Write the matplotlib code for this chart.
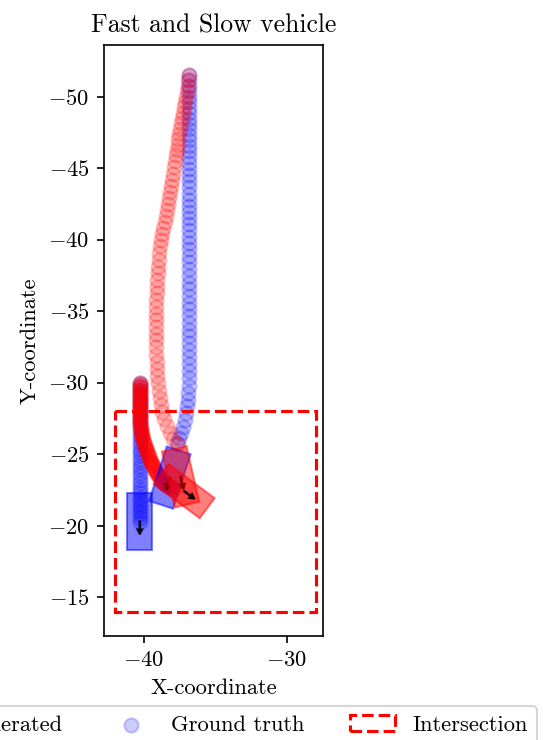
import matplotlib
matplotlib.use("Agg")
import matplotlib.pyplot as plt
from matplotlib.patches import Rectangle
import numpy as np

plt.rcParams["font.family"] = "serif"
plt.rcParams["font.serif"] = ["cmr10"]
plt.rcParams["mathtext.fontset"] = "cm"
plt.rcParams["axes.formatter.use_mathtext"] = True
plt.rcParams["font.size"] = 10.8

# ground truth, fast vehicle
gt_fast_x = [
    -36.85, -36.85, -36.85, -36.85, -36.85, -36.85, -36.85, -36.85, -36.85, -36.85,
    -36.85, -36.85, -36.85, -36.85, -36.85, -36.85, -36.85, -36.85, -36.85, -36.85,
    -36.85, -36.85, -36.85, -36.85, -36.85, -36.85, -36.85, -36.85, -36.85, -36.85,
    -36.85, -36.85, -36.85, -36.85, -36.85, -36.85, -36.85, -36.85, -36.85, -36.85,
    -36.85, -36.85, -36.85, -36.85, -36.85, -36.85, -36.85, -36.85, -36.85, -36.85,
    -36.86, -36.88, -36.92, -36.97, -37.04, -37.12, -37.24, -37.37, -37.52, -37.67,
]
gt_fast_y = [
    -51.50, -51.12, -50.74, -50.36, -49.98, -49.60, -49.22, -48.84, -48.46, -48.08,
    -47.70, -47.32, -46.94, -46.56, -46.18, -45.80, -45.37, -44.94, -44.51, -44.08,
    -43.65, -43.22, -42.79, -42.36, -41.93, -41.50, -41.07, -40.64, -40.21, -39.78,
    -39.35, -38.88, -38.41, -37.94, -37.47, -37.00, -36.53, -36.06, -35.59, -35.12,
    -34.65, -34.18, -33.71, -33.24, -32.77, -32.30, -31.80, -31.30, -30.80, -30.30,
    -29.80, -29.31, -28.82, -28.34, -27.86, -27.39, -26.94, -26.52, -26.13, -25.77,
]

# generated, fast vehicle
gen_fast_x = [
    -36.85, -36.89, -36.94, -36.98, -37.04, -37.11, -37.17, -37.24, -37.31, -37.37,
    -37.44, -37.51, -37.58, -37.64, -37.71, -37.78, -37.85, -37.92, -37.99, -38.05,
    -38.12, -38.19, -38.26, -38.33, -38.41, -38.48, -38.55, -38.63, -38.70, -38.77,
    -38.84, -38.91, -38.95, -38.98, -39.02, -39.05, -39.08, -39.10, -39.12, -39.13,
    -39.15, -39.16, -39.16, -39.16, -39.16, -39.16, -39.14, -39.11, -39.08, -39.05,
    -39.02, -38.96, -38.90, -38.81, -38.71, -38.57, -38.39, -38.19, -37.96, -37.60,
]
gen_fast_y = [
    -51.50, -51.12, -50.75, -50.37, -49.99, -49.62, -49.25, -48.87, -48.50, -48.12,
    -47.75, -47.38, -47.01, -46.63, -46.26, -45.88, -45.46, -45.04, -44.61, -44.19,
    -43.76, -43.34, -42.91, -42.49, -42.07, -41.64, -41.22, -40.79, -40.37, -39.95,
    -39.52, -39.06, -38.59, -38.12, -37.65, -37.18, -36.71, -36.24, -35.77, -35.30,
    -34.83, -34.36, -33.89, -33.42, -32.95, -32.48, -31.97, -31.46, -30.96, -30.46,
    -29.95, -29.44, -28.93, -28.44, -27.93, -27.45, -26.97, -26.51, -26.06, -25.70,
]

# ground truth, slow vehicle
gt_slow_x = [
    -40.28, -40.28, -40.28, -40.28, -40.28, -40.28, -40.28, -40.28, -40.28, -40.28,
    -40.28, -40.28, -40.28, -40.28, -40.28, -40.28, -40.28, -40.28, -40.28, -40.28,
    -40.28, -40.28, -40.28, -40.28, -40.28, -40.28, -40.28, -40.28, -40.28, -40.28,
    -40.28, -40.28, -40.28, -40.28, -40.28, -40.28, -40.28, -40.28, -40.28, -40.28,
    -40.28,
]
gt_slow_y = [
    -30.00, -29.76, -29.52, -29.27, -29.03, -28.79, -28.55, -28.31, -28.06, -27.82,
    -27.58, -27.34, -27.10, -26.85, -26.61, -26.37, -26.13, -25.89, -25.64, -25.40,
    -25.16, -24.92, -24.68, -24.43, -24.19, -23.95, -23.71, -23.47, -23.22, -22.98,
    -22.74, -22.50, -22.26, -22.01, -21.77, -21.53, -21.29, -21.05, -20.80, -20.56,
    -20.30,
]

# generated, slow vehicle
gen_slow_x = [
    -40.28, -40.28, -40.28, -40.28, -40.28, -40.28, -40.28, -40.28, -40.28, -40.28,
    -40.28, -40.28, -40.28, -40.28, -40.28, -40.28, -40.28, -40.28, -40.28, -40.28,
    -40.28, -40.28, -40.28, -40.28, -40.28, -40.27, -40.27, -40.26, -40.25, -40.24,
    -40.23, -40.22, -40.20, -40.18, -40.16, -40.14, -40.12, -40.10, -40.07, -40.04,
    -40.01, -39.97, -39.94, -39.92, -39.88, -39.85, -39.81, -39.77, -39.74, -39.70,
    -39.66, -39.63, -39.59, -39.55, -39.50, -39.45, -39.41, -39.36, -39.31, -39.27,
    -39.22, -39.17, -39.12, -39.07, -39.01, -38.96, -38.90, -38.84, -38.78, -38.73,
    -38.67, -38.59, -38.51, -38.42, -38.32, -38.23, -38.15, -38.05, -37.96, -37.87,
]
gen_slow_y = [
    -30.00, -29.90, -29.79, -29.69, -29.58, -29.48, -29.38, -29.27, -29.17, -29.06,
    -28.96, -28.86, -28.75, -28.65, -28.54, -28.44, -28.34, -28.23, -28.13, -28.02,
    -27.92, -27.82, -27.71, -27.61, -27.50, -27.40, -27.30, -27.19, -27.09, -26.96,
    -26.86, -26.76, -26.65, -26.55, -26.45, -26.35, -26.25, -26.15, -26.05, -25.95,
    -25.85, -25.75, -25.64, -25.54, -25.44, -25.35, -25.25, -25.15, -25.05, -24.96,
    -24.86, -24.76, -24.66, -24.56, -24.47, -24.38, -24.29, -24.19, -24.10, -24.01,
    -23.91, -23.82, -23.73, -23.64, -23.55, -23.47, -23.38, -23.29, -23.20, -23.12,
    -23.03, -22.97, -22.92, -22.87, -22.82, -22.77, -22.72, -22.66, -22.61, -22.56,
]

# final vehicle boxes: centre x, centre y, heading (deg), colour
box_x = [-40.28, -38.18, -37.43, -37.18]
box_y = [-20.30, -23.37, -23.43, -22.42]
box_heading = [90.0, 108.0, 77.0, 36.5]
box_color = ["blue", "blue", "red", "red"]
veh_length = 4.0
veh_width = 1.75

# intersection area
inter_x0, inter_y0 = -42.0, -28.0
inter_w, inter_h = 14.0, 14.0

fig = plt.figure(figsize=(543 / 150, 740 / 150), dpi=150)
ax = fig.add_axes([104 / 543, 104 / 740, 219 / 543, 591 / 740])

gt = ax.scatter(gt_fast_x, gt_fast_y, s=46, color="blue", alpha=0.2, label="Ground truth")
ax.scatter(gt_slow_x, gt_slow_y, s=46, color="blue", alpha=0.2)
gen = ax.scatter(gen_fast_x, gen_fast_y, s=46, color="red", alpha=0.2, label="Generated")
ax.scatter(gen_slow_x, gen_slow_y, s=46, color="red", alpha=0.2)

for cx, cy, hd, col in zip(box_x, box_y, box_heading, box_color):
    rect = Rectangle((cx - veh_length / 2, cy - veh_width / 2), veh_length, veh_width,
                     angle=hd, rotation_point="center", color=col, alpha=0.5, lw=1)
    ax.add_patch(rect)
    t = np.deg2rad(hd)
    ax.arrow(cx, cy, 0.9 * np.cos(t), 0.9 * np.sin(t), width=0.04, head_width=0.35,
             head_length=0.35, length_includes_head=True, fc="black", ec="black", alpha=0.8)

inter = Rectangle((inter_x0, inter_y0), inter_w, inter_h, fill=False,
                  edgecolor="red", linestyle="--", linewidth=1.5, label="Intersection")
ax.add_patch(inter)

ax.set_xlim(-42.78, -27.48)
ax.set_ylim(-12.3, -53.6)
ax.set_aspect("equal", anchor="C")
ax.set_xticks([-40, -30])
ax.set_yticks([-50, -45, -40, -35, -30, -25, -20, -15])
ax.set_title("Fast and Slow vehicle", fontsize=12.3)
ax.set_xlabel("X-coordinate")
ax.set_ylabel("Y-coordinate")
ax.legend(handles=[gen, gt, inter], loc="upper center", bbox_to_anchor=(0.5, -0.1), ncol=3)

fig.savefig("out.png", dpi=150)
